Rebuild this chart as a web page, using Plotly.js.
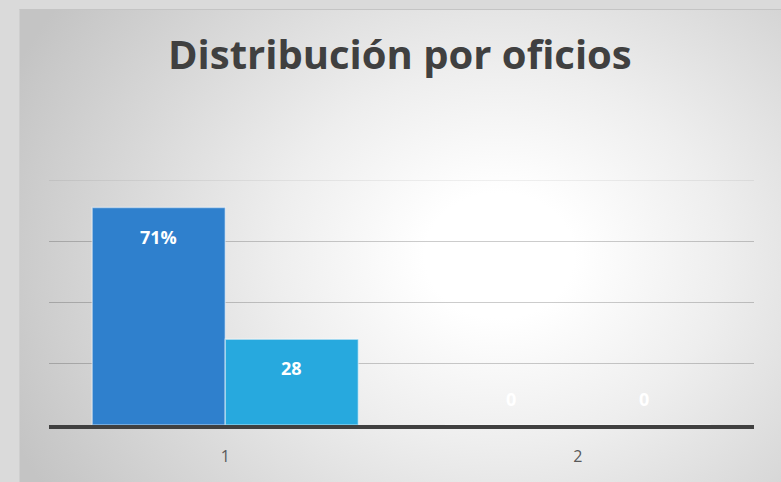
<!DOCTYPE html>
<html>
<head>
<meta charset="utf-8">
<script src="https://cdn.plot.ly/plotly-3.0.1.min.js"></script>
<style>
  html, body { margin:0; padding:0; }
  #wrap { position:relative; width:781px; height:482px; background:#dadada; overflow:hidden; }
  #bg { position:absolute; left:19px; top:9px; right:0; bottom:0;
        border-top:1px solid #c4c4c4; border-left:1px solid #cfcfcf;
        background: radial-gradient(ellipse 70% 95% at 63% 52%, #ffffff 0%, #ffffff 14%, #eeeeee 42%, #d8d8d8 72%, #c4c4c4 100%); }
  #chart { position:absolute; left:0; top:0; width:781px; height:482px; }
</style>
</head>
<body>
<div id="wrap"><div id="bg"></div><div id="chart"></div></div>
<script>
const categories = ['1', '2'];
const seriesA = [71, 0];
const seriesB = [28, 0];
const labelsA = ['71%', '0'];
const labelsB = ['28', '0'];
const colorA = '#2f80cd';
const colorB = '#27a9de';
const yMax = 80;

const barLine = { color: 'rgba(255,255,255,0.45)', width: 1.5 };
const traces = [
  { type: 'bar', x: categories, y: seriesA, marker: { color: colorA, line: barLine }, hoverinfo: 'none' },
  { type: 'bar', x: categories, y: seriesB, marker: { color: colorB, line: barLine }, hoverinfo: 'none' }
];

const halfBar = 66.5;
const annotations = [];
[[seriesA, labelsA, -1], [seriesB, labelsB, 1]].forEach(([vals, labs, side]) => {
  vals.forEach((v, i) => {
    annotations.push({
      x: i, y: v, xref: 'x', yref: 'y', text: labs[i], showarrow: false,
      xshift: side * halfBar, yshift: v > 0 ? -29 : 26, yanchor: 'middle',
      font: { family: 'Open Sans', size: 18, color: '#ffffff', weight: 'bold' }
    });
  });
});

const layout = {
  width: 781, height: 482,
  margin: { l: 49, r: 27, t: 180, b: 57, pad: 0 },
  paper_bgcolor: 'rgba(0,0,0,0)', plot_bgcolor: 'rgba(0,0,0,0)',
  title: { text: 'Distribución por oficios', x: 0.512, xanchor: 'center', y: 0.886, yanchor: 'middle',
           font: { family: 'Open Sans', size: 40, color: '#404040', weight: 'bold' } },
  barmode: 'group', bargap: 0.245, bargroupgap: 0,
  showlegend: false,
  xaxis: { type: 'category', range: [-0.5, 1.5], showline: true, linecolor: '#404040', linewidth: 3.5,
           ticks: 'outside', ticklen: 14, tickcolor: 'rgba(0,0,0,0)', showgrid: false,
           tickfont: { family: 'Open Sans', size: 16, color: '#595959' }, fixedrange: true },
  yaxis: { range: [0, yMax], dtick: 20, showticklabels: false, showgrid: true,
           gridcolor: 'rgba(0,0,0,0.2)', gridwidth: 1, zeroline: false, showline: false, fixedrange: true },
  shapes: [{ type: 'line', xref: 'paper', x0: 0, x1: 1, yref: 'y', y0: yMax, y1: yMax,
             line: { color: 'rgba(0,0,0,0.12)', width: 1 }, layer: 'below' }],
  annotations: annotations
};

Plotly.newPlot('chart', traces, layout, { displayModeBar: false, staticPlot: true });
</script>
</body>
</html>
